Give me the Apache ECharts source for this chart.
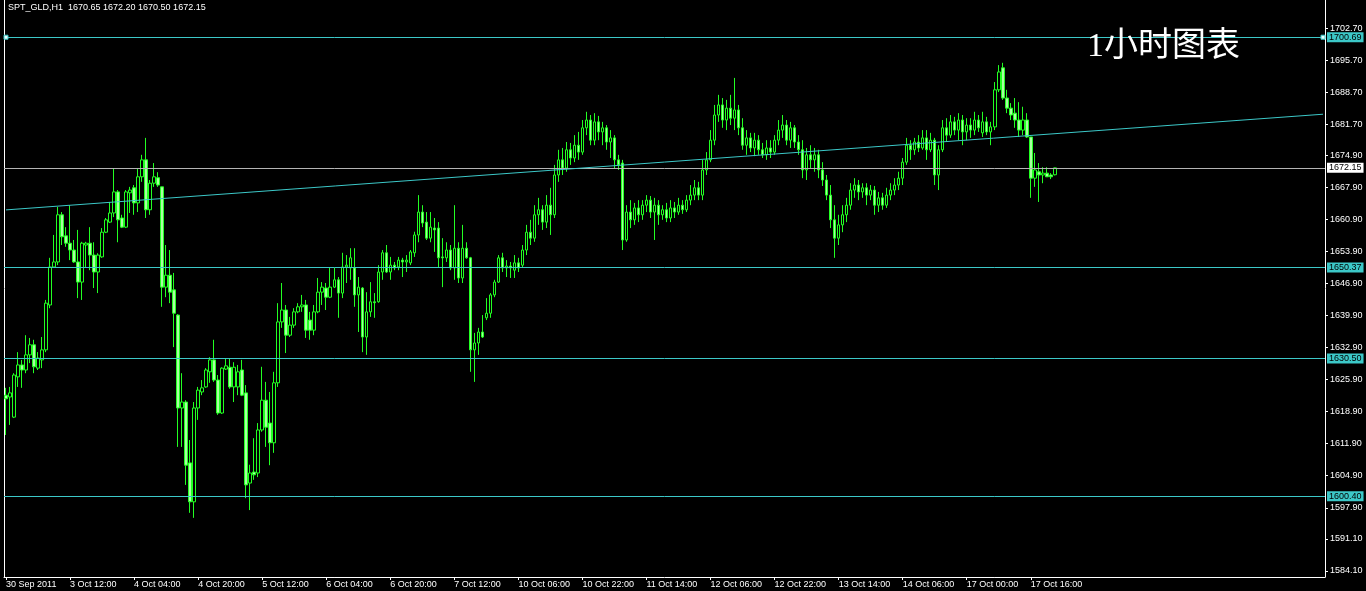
<!DOCTYPE html>
<html>
<head>
<meta charset="utf-8">
<script src="https://cdn.jsdelivr.net/npm/echarts@6/dist/echarts.min.js"></script>
<style>
html,body{margin:0;padding:0;background:#000;}
#main{width:1366px;height:591px;}
</style>
</head>
<body>
<div id="main"></div>
<script>
// ---- data ----
const symbolTitle = 'SPT_GLD,H1  1670.65 1672.20 1670.50 1672.15';
const chartNote = '1小时图表';
const xTickLabels = ['30 Sep 2011','3 Oct 12:00','4 Oct 04:00','4 Oct 20:00','5 Oct 12:00','6 Oct 04:00','6 Oct 20:00','7 Oct 12:00','10 Oct 06:00','10 Oct 22:00','11 Oct 14:00','12 Oct 06:00','12 Oct 22:00','13 Oct 14:00','14 Oct 06:00','17 Oct 00:00','17 Oct 16:00'];
const yTicks = [1702.70,1695.70,1688.70,1681.70,1674.90,1667.90,1660.90,1653.90,1646.90,1639.90,1632.90,1625.90,1618.90,1611.90,1604.90,1597.90,1591.10,1584.10];
const hLevels = [1700.69,1650.37,1630.50,1600.40];
const lastPrice = 1672.15;
const trendStart = 1662.97;  // trend line value at first bar slot
const trendEnd = 1683.87;    // trend line value at last bar slot
const totalSlots = 330;      // bar slots shown (incl. empty right shift)
// [open, close, low, high]
const ohlc = [
[1622.5,1621.7,1613.8,1624.1],[1622.1,1623.0,1616.0,1624.3],[1617.7,1626.9,1617.5,1627.3],[1626.5,1629.1,1624.3,1631.9],
[1629.1,1628.0,1624.1,1630.2],[1628.0,1631.3,1627.3,1635.6],[1631.3,1633.5,1629.5,1635.0],[1633.5,1628.7,1627.3,1634.6],
[1628.4,1630.6,1628.0,1631.9],[1630.2,1632.4,1628.4,1635.2],[1632.4,1642.6,1631.9,1643.3],[1642.2,1650.5,1641.5,1652.5],
[1650.5,1651.6,1650.3,1657.5],[1651.6,1661.9,1650.9,1663.6],[1661.9,1657.1,1655.3,1662.5],[1657.3,1655.7,1654.9,1659.2],
[1655.7,1654.2,1652.0,1664.0],[1654.2,1651.6,1651.4,1656.4],[1651.6,1647.2,1643.7,1658.6],[1647.2,1655.7,1643.3,1656.0],
[1655.3,1655.7,1650.5,1656.0],[1655.7,1653.1,1649.8,1659.2],[1653.1,1649.4,1645.9,1655.9],[1649.4,1653.1,1644.8,1653.5],
[1652.7,1658.1,1652.5,1659.0],[1658.1,1660.8,1657.9,1661.2],[1660.3,1662.3,1660.1,1664.7],[1662.3,1666.9,1661.4,1672.1],
[1666.9,1660.8,1655.9,1667.3],[1661.2,1659.2,1659.0,1661.9],[1659.2,1666.9,1659.0,1667.3],[1666.7,1667.3,1662.3,1668.0],
[1667.8,1664.5,1661.9,1668.4],[1664.5,1670.2,1662.5,1672.1],[1670.2,1673.9,1669.1,1675.0],[1673.9,1663.0,1661.2,1678.7],
[1663.0,1668.8,1661.9,1669.5],[1668.8,1670.2,1668.0,1673.2],[1670.0,1668.4,1668.0,1671.2],[1668.0,1646.1,1641.8,1668.0],
[1646.1,1648.7,1643.9,1655.3],[1648.7,1645.0,1642.6,1654.2],[1645.5,1640.4,1633.0,1649.2],[1640.0,1619.7,1611.2,1640.2],
[1619.7,1621.0,1611.2,1627.3],[1621.0,1607.2,1602.9,1621.4],[1607.7,1599.2,1596.8,1612.7],[1599.2,1619.7,1595.7,1621.0],
[1619.7,1623.6,1617.1,1624.3],[1623.2,1624.1,1622.5,1625.8],[1624.3,1628.0,1624.1,1628.4],[1627.6,1630.2,1625.2,1630.8],
[1630.2,1625.8,1625.4,1634.6],[1625.8,1618.6,1618.2,1626.9],[1618.6,1628.4,1618.4,1628.6],[1628.2,1628.9,1628.0,1630.6],
[1628.6,1624.3,1623.9,1630.6],[1624.3,1628.6,1621.0,1629.7],[1624.3,1627.6,1622.5,1629.1],[1628.0,1622.5,1622.3,1630.2],
[1623.0,1602.9,1600.0,1624.7],[1603.3,1605.5,1597.4,1607.3],[1605.7,1605.1,1604.0,1613.1],[1605.5,1614.9,1604.6,1616.4],
[1614.9,1621.4,1614.5,1628.7],[1621.4,1615.5,1611.2,1625.4],[1616.4,1612.1,1607.2,1623.2],[1612.1,1625.2,1609.9,1627.6],
[1625.2,1638.5,1624.3,1642.6],[1638.5,1641.1,1637.2,1647.0],[1641.1,1635.6,1631.7,1642.2],[1635.6,1637.8,1635.2,1639.6],
[1637.8,1640.7,1637.2,1641.5],[1640.7,1641.8,1640.4,1642.6],[1641.8,1642.2,1640.7,1644.4],[1642.2,1636.7,1635.0,1643.3],
[1638.9,1636.7,1634.6,1640.7],[1636.7,1640.7,1635.6,1642.2],[1640.7,1645.0,1640.4,1648.1],[1645.0,1646.1,1642.2,1647.2],
[1645.9,1643.9,1641.1,1647.0],[1643.9,1646.1,1643.7,1650.3],[1646.1,1647.7,1645.9,1650.3],[1647.7,1644.8,1639.4,1648.3],
[1644.8,1650.5,1643.7,1653.6],[1650.5,1650.9,1647.0,1653.1],[1650.3,1652.5,1647.7,1654.6],[1650.3,1644.4,1641.8,1654.6],
[1644.4,1646.1,1636.3,1648.3],[1645.9,1635.2,1631.9,1646.1],[1635.2,1640.7,1631.3,1645.0],[1640.7,1642.9,1639.6,1647.2],
[1642.9,1642.7,1639.4,1644.8],[1642.9,1649.4,1642.7,1650.9],[1649.4,1653.6,1647.7,1654.2],[1653.6,1649.4,1649.2,1655.3],
[1649.4,1650.9,1647.7,1652.7],[1650.9,1650.3,1649.8,1651.6],[1650.5,1652.0,1649.8,1652.7],[1652.0,1651.6,1648.3,1652.5],
[1651.6,1652.0,1649.4,1653.1],[1651.4,1653.8,1650.9,1654.2],[1653.6,1657.5,1652.7,1658.2],[1657.5,1662.5,1655.9,1666.2],
[1662.5,1660.1,1659.2,1664.0],[1660.3,1656.8,1656.4,1662.5],[1656.8,1659.2,1655.9,1662.5],[1659.0,1658.6,1653.8,1661.2],
[1659.0,1652.5,1650.3,1660.3],[1652.7,1652.5,1646.1,1656.8],[1652.5,1654.2,1651.6,1655.9],[1654.2,1650.3,1649.8,1655.3],
[1650.3,1654.6,1647.7,1664.0],[1654.6,1648.1,1647.0,1655.9],[1648.1,1654.6,1647.0,1659.7],[1654.6,1652.5,1652.3,1655.9],
[1652.5,1632.4,1627.6,1652.7],[1632.4,1633.9,1625.4,1636.1],[1633.9,1636.3,1631.3,1637.2],[1636.3,1635.2,1635.0,1640.0],
[1639.4,1640.4,1638.9,1643.7],[1640.4,1644.4,1639.4,1644.8],[1644.4,1647.2,1643.9,1647.7],[1647.2,1652.5,1647.0,1653.1],
[1652.5,1650.3,1649.4,1653.6],[1650.3,1650.7,1648.3,1652.0],[1650.7,1650.3,1648.1,1651.6],[1649.8,1651.4,1648.1,1653.1],
[1651.4,1650.3,1649.4,1652.5],[1650.9,1654.2,1650.3,1655.3],[1654.2,1658.1,1653.1,1659.7],[1658.1,1656.8,1655.3,1660.8],
[1656.8,1661.9,1656.0,1664.0],[1661.9,1663.0,1659.7,1665.6],[1663.0,1660.3,1658.6,1664.0],[1660.3,1664.0,1659.0,1666.2],
[1664.0,1661.9,1657.5,1667.8],[1661.9,1670.6,1661.2,1672.8],[1670.6,1673.9,1669.1,1676.1],[1673.9,1672.1,1670.6,1676.5],
[1672.1,1676.1,1671.3,1677.8],[1676.1,1674.3,1672.8,1677.6],[1674.3,1677.1,1673.4,1679.3],[1677.1,1675.6,1673.9,1680.0],
[1675.6,1680.9,1675.0,1682.6],[1680.9,1682.6,1679.3,1684.4],[1682.6,1678.2,1677.1,1683.7],[1678.2,1682.2,1677.1,1684.1],
[1682.2,1680.0,1678.2,1683.5],[1680.0,1680.9,1677.1,1682.2],[1680.9,1677.8,1676.1,1681.5],[1677.8,1678.7,1674.3,1680.4],
[1678.7,1673.9,1672.1,1679.3],[1673.9,1672.8,1671.7,1675.0],[1673.2,1656.4,1654.2,1673.9],[1656.4,1662.5,1656.0,1664.0],
[1662.5,1660.8,1659.0,1665.1],[1660.8,1663.4,1659.7,1664.5],[1663.4,1661.9,1660.3,1665.1],[1661.9,1664.0,1660.8,1665.1],
[1664.0,1665.1,1662.5,1666.2],[1665.1,1662.5,1661.2,1666.0],[1662.5,1664.0,1656.4,1665.6],[1664.0,1661.9,1659.7,1665.1],
[1661.9,1663.0,1660.8,1664.0],[1663.0,1661.2,1660.3,1664.5],[1661.2,1663.4,1660.3,1665.1],[1663.4,1662.5,1661.2,1664.7],
[1662.5,1664.0,1661.9,1665.6],[1664.0,1663.0,1662.1,1665.1],[1663.0,1665.1,1662.5,1666.2],[1665.1,1666.2,1664.0,1668.4],
[1666.2,1667.8,1665.1,1669.5],[1667.8,1666.2,1665.1,1669.1],[1666.2,1671.7,1665.1,1673.9],[1671.7,1673.9,1670.6,1675.6],
[1673.9,1678.2,1673.4,1680.4],[1678.2,1683.7,1677.1,1685.9],[1683.7,1685.9,1682.2,1688.1],[1685.9,1682.6,1680.9,1687.4],
[1682.6,1685.2,1680.4,1687.0],[1685.2,1683.0,1681.5,1688.1],[1683.0,1684.8,1680.4,1691.8],[1684.8,1680.9,1679.3,1685.9],
[1680.9,1677.1,1676.1,1683.0],[1677.1,1678.7,1675.0,1680.4],[1678.7,1676.5,1675.6,1679.8],[1676.5,1678.2,1674.7,1679.8],
[1678.2,1676.1,1675.0,1679.3],[1676.1,1675.0,1674.3,1677.6],[1675.0,1676.5,1673.9,1678.2],[1676.5,1675.6,1674.3,1678.2],
[1675.6,1678.2,1675.0,1679.3],[1678.2,1680.4,1677.1,1682.6],[1680.4,1681.5,1678.7,1683.7],[1681.5,1678.2,1677.1,1682.6],
[1678.2,1680.9,1676.5,1682.2],[1680.9,1677.8,1676.5,1681.5],[1677.8,1676.1,1675.0,1679.3],[1676.1,1671.7,1669.9,1678.2],
[1671.7,1675.0,1669.5,1676.5],[1675.0,1673.9,1672.1,1677.1],[1673.9,1675.0,1671.3,1676.5],[1675.0,1671.7,1669.9,1676.1],
[1671.7,1669.5,1668.2,1673.4],[1669.5,1666.2,1665.1,1670.6],[1666.2,1660.8,1659.0,1668.4],[1660.8,1656.8,1652.5,1664.0],
[1656.8,1659.7,1655.3,1661.9],[1659.7,1661.9,1658.1,1664.0],[1661.9,1664.0,1660.3,1665.6],[1664.0,1667.3,1663.0,1668.8],
[1667.3,1668.4,1665.6,1669.9],[1668.4,1666.9,1665.1,1669.5],[1666.9,1667.8,1665.6,1668.8],[1667.8,1666.2,1664.0,1668.8],
[1666.2,1667.3,1665.1,1668.4],[1667.3,1664.0,1661.9,1668.2],[1664.0,1665.6,1662.5,1666.9],[1665.6,1664.0,1663.0,1666.7],
[1664.0,1666.2,1663.4,1667.8],[1666.2,1667.3,1665.1,1668.8],[1667.3,1668.4,1666.2,1669.9],[1668.4,1669.9,1667.3,1671.3],
[1669.9,1673.4,1668.4,1674.3],[1673.4,1677.1,1672.8,1678.7],[1677.1,1676.1,1673.9,1678.2],[1676.1,1677.8,1675.0,1678.7],
[1677.8,1676.5,1675.6,1679.3],[1676.5,1678.7,1676.1,1680.4],[1678.7,1676.1,1673.9,1680.4],[1676.1,1678.2,1675.6,1679.8],
[1678.2,1670.6,1668.4,1678.7],[1670.6,1676.1,1667.3,1677.1],[1676.1,1680.9,1675.6,1682.6],[1680.9,1679.3,1677.8,1683.0],
[1679.3,1682.2,1678.7,1683.7],[1682.2,1680.4,1679.3,1683.3],[1680.4,1682.6,1678.2,1684.1],[1682.6,1680.0,1677.1,1683.7],
[1680.0,1681.5,1678.2,1683.0],[1681.5,1680.4,1678.7,1683.0],[1680.4,1682.6,1679.3,1684.4],[1682.6,1680.9,1680.0,1683.7],
[1679.8,1682.2,1678.9,1684.4],[1682.2,1680.0,1679.3,1683.3],[1680.0,1681.1,1677.1,1682.2],[1681.1,1689.2,1680.4,1690.9],
[1689.2,1693.1,1688.7,1694.6],[1694.0,1687.4,1687.0,1695.1],[1687.4,1685.2,1684.1,1689.2],[1685.2,1683.7,1682.6,1686.3],
[1684.1,1682.6,1680.9,1687.4],[1682.6,1680.4,1678.9,1686.5],[1680.4,1682.6,1679.3,1685.5],[1682.6,1678.9,1678.7,1684.1],
[1678.9,1669.9,1665.6,1678.9],[1669.9,1671.7,1668.0,1675.4],[1671.3,1670.6,1664.7,1673.2],[1670.6,1671.0,1668.8,1672.3],
[1671.0,1670.2,1670.2,1672.3],[1670.6,1670.2,1669.7,1671.0],[1670.65,1672.15,1670.50,1672.20]
];

// ---- chart ----
const slotIds = Array.from({length: totalSlots}, (_, i) => String(i));
const cyan = '#3cc8c8';
const labelFont = 'Liberation Sans, Arial, sans-serif';
function boxLabel(txt, bg) {
  return {show: true, position: 'end', distance: 2, formatter: txt, color: '#000',
    backgroundColor: bg, padding: [1, 2, 0, 2], fontSize: 9, fontFamily: labelFont};
}
const hLineData = hLevels.map(function (v) {
  return {yAxis: v, lineStyle: {color: cyan, width: 1, type: 'solid'}, label: boxLabel(v.toFixed(2), cyan)};
});
hLineData.push({yAxis: lastPrice, lineStyle: {color: '#b4b4b4', width: 1, type: 'solid'},
  label: boxLabel(lastPrice.toFixed(2), '#fff')});
hLineData.push([
  {coord: [0, trendStart], lineStyle: {color: cyan, width: 1, type: 'solid'}, label: {show: false}},
  {coord: [totalSlots - 1, trendEnd]}
]);

function isLabelSlot(idx) { return idx % 16 === 0 && idx / 16 < xTickLabels.length; }

const option = {
  backgroundColor: '#000',
  animation: false,
  title: [
    {text: symbolTitle, left: 8, top: 3, padding: 0, textStyle: {color: '#fff', fontSize: 9, fontWeight: 'normal', fontFamily: labelFont}},
    {text: chartNote, left: 1087, top: 30, padding: 0, textStyle: {color: '#fff', fontSize: 34, fontWeight: 'normal', fontFamily: '"Liberation Serif","Noto Sans CJK SC",serif'}}
  ],
  grid: {left: 4, right: 41, top: 0, bottom: 14, containLabel: false},
  xAxis: {
    type: 'category', data: slotIds, boundaryGap: true,
    axisLine: {show: true, lineStyle: {color: '#fff', width: 1}},
    axisTick: {show: true, interval: function (idx) { return isLabelSlot(idx); }, alignWithLabel: true, length: 3, lineStyle: {color: '#fff'}},
    axisLabel: {show: true, interval: function (idx) { return isLabelSlot(idx); }, align: 'left', margin: 3, color: '#fff', fontSize: 9,
                fontFamily: labelFont,
                formatter: function (v) { return xTickLabels[Number(v) / 16] || ''; }},
    splitLine: {show: false}
  },
  yAxis: [{
    type: 'value', position: 'right', min: 1582.78, max: 1708.82,
    axisLine: {show: true, onZero: false, lineStyle: {color: '#fff', width: 1}},
    axisTick: {show: true, length: 3, customValues: yTicks, lineStyle: {color: '#fff'}},
    axisLabel: {show: true, customValues: yTicks, margin: 5, color: '#fff', fontSize: 9,
                fontFamily: labelFont, formatter: function (v) { return v.toFixed(2); }},
    splitLine: {show: false}
  }, {
    type: 'value', position: 'left', min: 1582.78, max: 1708.82,
    axisLine: {show: true, onZero: false, lineStyle: {color: '#fff', width: 1}},
    axisTick: {show: false}, axisLabel: {show: false}, splitLine: {show: false}
  }],
  series: [{
    type: 'candlestick',
    data: ohlc,
    barWidth: 3,
    itemStyle: {color: '#000', color0: '#a8ffa0', borderColor: '#22ff22', borderColor0: '#22ff22', borderWidth: 1},
    markLine: {silent: true, animation: false, symbol: ['none', 'none'], precision: 2, data: hLineData},
    markPoint: {silent: true, animation: false, symbol: 'rect', symbolSize: 4,
      itemStyle: {color: '#e8ffff', borderColor: cyan, borderWidth: 1},
      label: {show: false},
      data: [{coord: [0, hLevels[0]]}, {coord: [totalSlots - 1, hLevels[0]]}]}
  }]
};
const myChart = echarts.init(document.getElementById('main'), null, {renderer: 'canvas'});
myChart.setOption(option);
</script>
</body>
</html>
